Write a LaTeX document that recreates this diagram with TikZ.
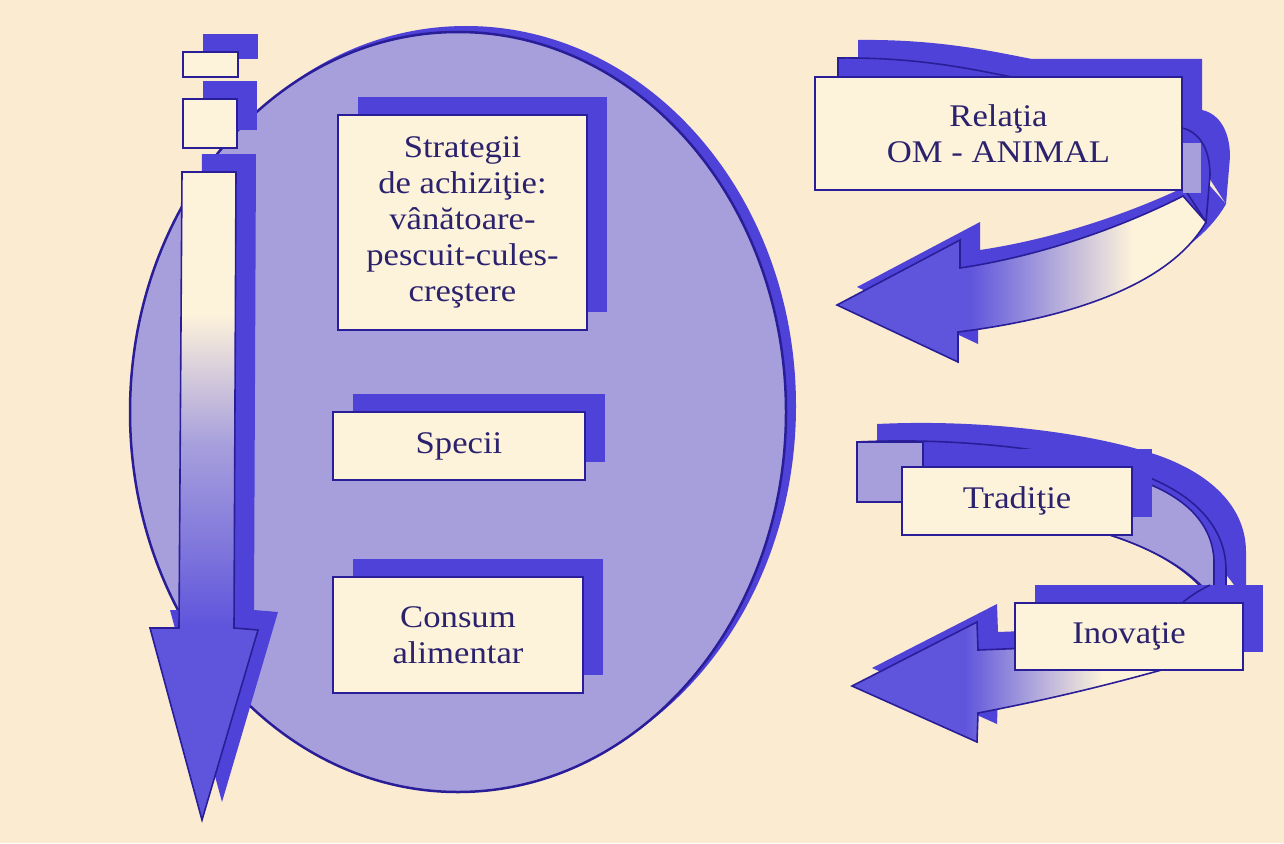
\documentclass[tikz,border=0pt]{standalone}
\usepackage{fontspec}
\setmainfont{Liberation Serif}[FakeStretch=1.1]
\usetikzlibrary{shadows}
\definecolor{bg}{HTML}{FBEBD1}
\definecolor{boxc}{HTML}{FDF2DA}
\definecolor{dkb}{HTML}{4E42D8}
\definecolor{midb}{HTML}{5F55DC}
\definecolor{navy}{HTML}{2A1E98}
\definecolor{lav}{HTML}{A79FDC}
\definecolor{txt}{HTML}{2B226E}
\colorlet{mixb}{midb!55!lav}
\pgfdeclarehorizontalshading{hshade}{100bp}{color(0bp)=(midb); color(43bp)=(midb); color(53bp)=(lav); color(65bp)=(boxc); color(100bp)=(boxc)}
\pgfdeclareverticalshading{vshade}{100bp}{color(0bp)=(midb); color(40bp)=(midb); color(46bp)=(mixb); color(54bp)=(lav); color(64bp)=(boxc); color(100bp)=(boxc)}
\newcommand\vArrowPath{(182,172) -- (236,172) -- (234,628) -- (258,630) -- (202,820) -- (150,628) -- (179,628) -- cycle}
\newcommand\ribUpBack{(838,58) .. controls (920,57) and (975,70) .. (1012,77) -- (1182,77) -- (1182,128) .. controls (1200,132) and (1210,150) .. (1210,175) -- (1206,222) -- (1182,185) -- (838,185) -- cycle}
\newcommand\ribUpArrow{(1183,196) .. controls (1120,228) and (1040,256) .. (960,268) -- (960,240) -- (837,305) -- (958,362) -- (958,332) .. controls (1070,318) and (1170,285) .. (1206,222) -- cycle}
\newcommand\ribLoBack{(857,442) .. controls (960,437) and (1070,450) .. (1140,474) .. controls (1195,494) and (1226,528) .. (1226,570) -- (1226,603) -- (1214,603) .. controls (1190,568) and (1150,548) .. (1110,535) -- (902,500) -- (857,500) -- cycle}
\newcommand\ribLoArrow{(1030,648) -- (1165,648) -- (1165,669) .. controls (1090,690) and (1030,703) .. (978,713) -- (977,742) -- (852,686) -- (977,622) -- (978,650) -- cycle}
\begin{document}
\begin{tikzpicture}[x=1pt,y=-1pt,
  box/.style={draw=navy, line width=2pt, fill=boxc, inner sep=0pt, align=center, text=txt,
    font=\fontsize{31.5}{36}\selectfont},
  sbox/.style={box, general shadow={fill=dkb, shadow xshift=20pt, shadow yshift=18pt}},
  shadowfill/.style={fill=dkb, shift={(20,-18)}},
  outl/.style={draw=navy, line width=1.6pt}]
\fill[bg] (0,0) rectangle (1284,843);
\useasboundingbox (0,0) rectangle (1284,843);

% ellipse
\fill[dkb] (466,406) ellipse [x radius=330, y radius=380];
\draw[navy, line width=2.5pt, fill=lav] (458,412) ellipse [x radius=328, y radius=380];

% left vertical arrow
\fill[shadowfill] \vArrowPath;
\shadedraw[shading=vshade, outl] \vArrowPath;
\node[sbox, minimum width=55pt, minimum height=25pt] (sb1) at (210.5,64.5) {};
\node[sbox, minimum width=54pt, minimum height=49pt] (sb2) at (210,123.5) {};

% central boxes
\node[sbox, minimum width=249pt, minimum height=215pt] (strat) at (462.5,222.5)
  {Strategii\\de achiziţie:\\vânătoare-\\pescuit-cules-\\creştere};
\node[sbox, minimum width=252pt, minimum height=68pt] (spec) at (459,446) {Specii};
\node[sbox, minimum width=250pt, minimum height=116pt] (cons) at (458,635) {Consum\\alimentar};

% upper right ribbon
\fill[shadowfill] \ribUpBack;
\fill[shadowfill] \ribUpArrow;
\filldraw[fill=dkb, outl] \ribUpBack;
\fill[lav] (1183,143) rectangle (1201,193);
\shadedraw[shading=hshade, outl] \ribUpArrow;
\node[box, minimum width=367pt, minimum height=113pt] (rel) at (998.5,133.5) {Relaţia\\OM - ANIMAL};

% lower right ribbon
\fill[shadowfill] \ribLoBack;
\fill[shadowfill] \ribLoArrow;
\filldraw[fill=dkb, outl] \ribLoBack;
\filldraw[fill=lav, outl] (1132,478) .. controls (1180,493) and (1212,520) .. (1214,560) -- (1214,600)
  .. controls (1190,568) and (1150,548) .. (1110,535) -- (1132,535) -- cycle;
\fill[dkb] (922,449) rectangle (1152,517);
\filldraw[fill=lav, outl] (857,442) rectangle (923,502);
\node[box, minimum width=230pt, minimum height=68pt] (trad) at (1017,501) {Tradiţie};
\fill[dkb] (1035,585) rectangle (1263,652);
\shadedraw[shading=hshade, outl] \ribLoArrow;
\node[box, minimum width=228pt, minimum height=67pt] (inov) at (1129,636.5) {Inovaţie};
\draw[outl] (1183,602) .. controls (1195,593) .. (1210,585);
\end{tikzpicture}
\end{document}
